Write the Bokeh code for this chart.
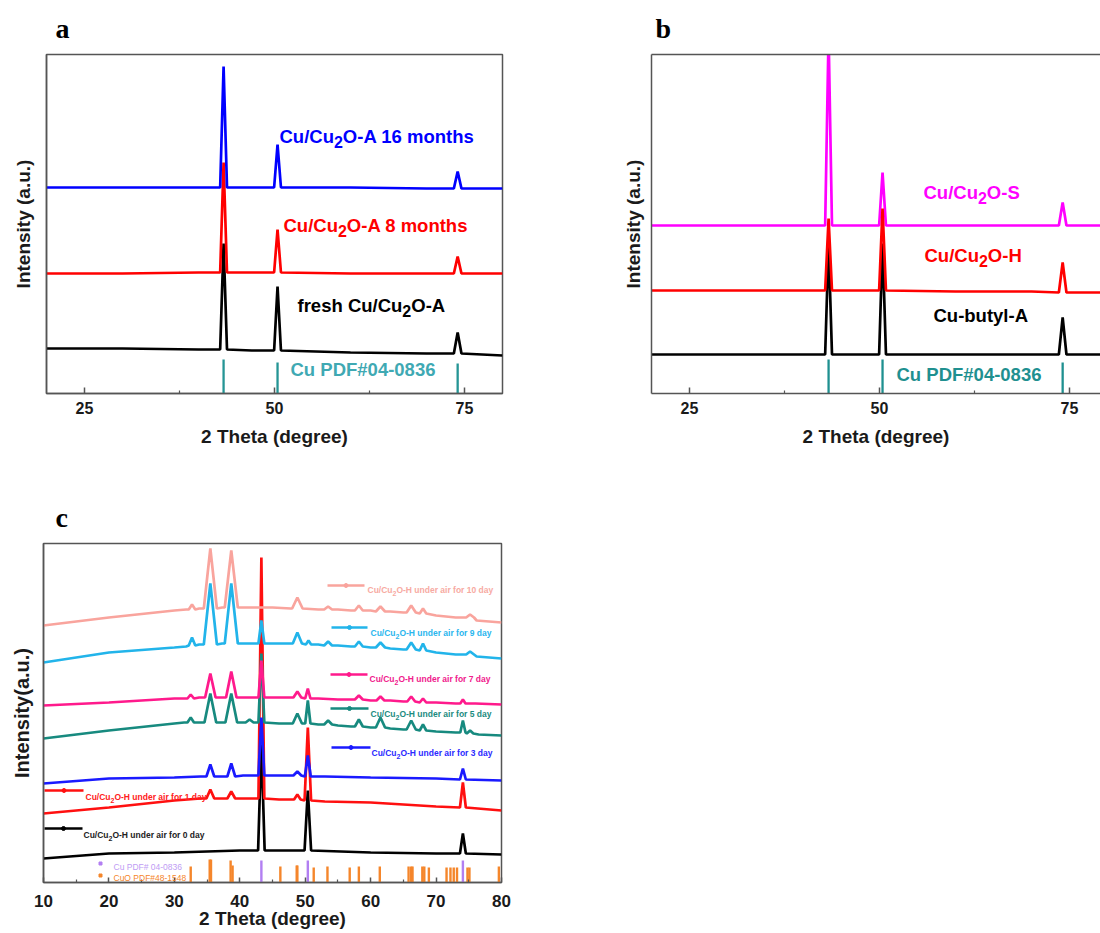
import numpy as np
from bokeh.plotting import figure
from bokeh.models import Range1d, LinearAxis, FixedTicker, Label
from bokeh.layouts import column, row
from bokeh.embed import file_html
from bokeh.resources import INLINE

FONT = "Liberation Sans"
SERIF = "Liberation Serif"

# ---------------- data (intensity in a.u.) ----------------
# Panel a
a_knot_x = [20, 30, 40, 47, 60, 70, 80]
a_black_knot_y = [45, 45, 44, 43, 41, 40, 38]
a_red_knot_y = [120, 120, 121, 121, 120, 120, 120]
a_blue_knot_y = [206, 206, 206, 206, 206, 205, 205]
a_peak_x = [43.3, 50.4, 74.1]
a_peak_hw = [0.45, 0.45, 0.5]
a_black_foot = [44, 43, 40]
a_black_top = [150, 107, 61]
a_red_foot = [121, 121, 120]
a_red_top = [231, 164, 137]
a_blue_foot = [206, 206, 205]
a_blue_top = [327, 249, 222]
cu_pdf_x = [43.3, 50.4, 74.1]
a_pdf_h = [34, 31, 30]

# Panel b
b_knot_x = [20, 30, 40, 47, 60, 70, 79.1]
b_black_knot_y = [39, 39, 39, 39, 39, 39, 39]
b_red_knot_y = [103, 103, 103, 103, 102, 102, 101]
b_mag_knot_y = [168, 168, 168, 168, 168, 168, 168]
b_peak_x = [43.3, 50.4, 74.1]
b_peak_hw = [0.45, 0.45, 0.5]
b_black_foot = [39, 39, 39]
b_black_top = [150, 150, 76]
b_red_foot = [103, 103, 101]
b_red_top = [175, 185, 131]
b_mag_foot = [168, 168, 168]
b_mag_top = [360, 221, 191]
b_pdf_h = [34, 34, 31]

# Panel c
c_days = [0, 1, 3, 5, 7, 9, 10]
c0_kx = [10, 20, 30, 40, 46, 60, 70, 80]
c0_ky = [24, 29, 30, 32, 32, 30, 29, 28]
c0_px = [43.3, 50.4, 74.1]
c0_pf = [32, 32, 29]
c0_pt = [140, 92, 49]
c0_hw = [0.5, 0.5, 0.45]

c1_kx = [10, 20, 30, 34, 37, 40.5, 46, 48, 53, 60, 70, 80]
c1_ky = [69, 75, 82, 84, 84, 84, 83, 83, 81, 80, 76, 72]
c1_px = [35.5, 38.7, 43.3, 48.8, 50.4, 74.1]
c1_pf = [84, 84, 84, 83, 82, 75]
c1_pt = [93, 91, 325, 88, 155, 100]
c1_hw = [0.6, 0.6, 0.45, 0.5, 0.5, 0.45]

c3_kx = [10, 20, 30, 34, 37, 40.5, 46, 47.5, 53, 60, 70, 80]
c3_ky = [99, 104, 105, 106, 106, 107, 107, 107, 106, 105, 104, 102]
c3_px = [35.5, 38.7, 43.3, 48.8, 50.4, 74.1]
c3_pf = [106, 106, 107, 107, 106, 103]
c3_pt = [118, 119, 165, 111, 127, 114]
c3_hw = [0.6, 0.6, 0.45, 0.6, 0.45, 0.45]

c5_kx = [10, 20, 30, 31.5, 33.8, 37.1, 40.5, 42.5, 46, 47.5, 52, 55, 57, 60, 63, 65, 70, 73, 76.5, 80]
c5_ky = [144, 152, 159, 160, 160, 160, 160, 160, 159, 159, 158, 157, 156, 155, 154, 153, 151, 150, 148, 147]
c5_px = [32.5, 35.5, 38.7, 41.5, 43.3, 48.8, 50.4, 53.5, 58.2, 61.5, 66.2, 68.0, 74.1, 75.2]
c5_pf = [160, 160, 160, 160, 160, 159, 159, 158, 156, 155, 153, 152, 150, 149]
c5_pt = [165, 189, 189, 163, 229, 169, 182, 162, 163, 165, 162, 158, 162, 152]
c5_hw = [0.5, 0.9, 0.9, 0.6, 0.45, 0.7, 0.4, 0.6, 0.6, 0.7, 0.7, 0.5, 0.4, 0.5]

c7_kx = [10, 20, 30, 31.8, 33.8, 37.1, 40.5, 42.5, 46, 47.8, 52, 55, 60, 63, 65, 70, 73, 76, 80]
c7_ky = [177, 180, 184, 184, 185, 185, 185, 185, 185, 185, 184, 183, 182, 182, 181, 180, 179, 179, 178]
c7_px = [32.5, 35.5, 38.7, 43.3, 48.8, 50.4, 58.2, 61.5, 66.2, 68.0, 74.1]
c7_pf = [184, 185, 185, 185, 185, 184, 183, 182, 181, 180, 179]
c7_pt = [188, 209, 211, 222, 191, 194, 187, 186, 186, 184, 183]
c7_hw = [0.5, 0.8, 0.8, 0.45, 0.6, 0.4, 0.6, 0.6, 0.6, 0.5, 0.4]

c9_kx = [10, 20, 30, 31.8, 33.8, 37.3, 40.3, 42.5, 46, 47.8, 52, 55, 57, 60, 63, 65, 70, 73, 76.2, 80]
c9_ky = [220, 230, 235, 236, 238, 239, 239, 239, 239, 239, 238, 237, 236, 235, 234, 233, 230, 228, 226, 224]
c9_px = [32.7, 35.5, 38.7, 43.3, 48.8, 50.5, 53.5, 58.2, 61.5, 66.2, 68.0, 75.2]
c9_pf = [237, 238, 239, 239, 239, 238, 237, 236, 235, 233, 232, 228]
c9_pt = [245, 299, 299, 262, 250, 242, 241, 241, 240, 240, 239, 231]
c9_hw = [0.5, 1.0, 1.0, 0.45, 0.7, 0.4, 0.6, 0.6, 0.7, 0.7, 0.5, 0.6]

c10_kx = [10, 20, 30, 31.8, 33.8, 37.3, 40.3, 45, 47.8, 52, 55, 57, 60, 63, 65, 70, 73, 76.2, 80]
c10_ky = [257, 265, 272, 273, 274, 275, 275, 275, 274, 273, 273, 272, 272, 271, 270, 267, 265, 262, 260]
c10_px = [32.7, 35.5, 38.7, 48.8, 53.5, 58.2, 61.5, 66.2, 68.0, 75.2]
c10_pf = [273, 274, 275, 274, 273, 272, 271, 270, 269, 265]
c10_pt = [278, 334, 332, 285, 276, 277, 276, 277, 274, 268]
c10_hw = [0.5, 1.0, 1.0, 0.8, 0.6, 0.6, 0.7, 0.7, 0.5, 0.6]

c_cu_h = [22, 22, 22]
cuo_pdf_x = [32.5, 35.4, 35.6, 38.6, 38.9, 46.2, 48.7, 48.8, 51.3, 53.4, 56.8, 58.2, 61.4,
             65.8, 66.2, 66.4, 67.9, 68.2, 68.9, 71.6, 72.2, 72.7, 73.2, 74.8, 75.1, 79.6]
cuo_pdf_h = [16, 23, 23, 22, 17, 16, 17, 17, 15, 16, 15, 16, 16,
             16, 16, 16, 16, 16, 15, 15, 15, 15, 15, 15, 15, 16]

# ---------------- helpers ----------------
AW = {' ': 278, '!': 333, '#': 556, '(': 333, ')': 333, '-': 333, '.': 278, '/': 278,
      'A': 722, 'B': 722, 'C': 722, 'D': 722, 'F': 611, 'H': 722, 'O': 778, 'P': 667,
      'S': 667, 'T': 611, 'a': 556, 'b': 611, 'd': 611, 'e': 556, 'f': 333, 'h': 611,
      'i': 278, 'l': 278, 'm': 889, 'n': 611, 'o': 611, 'r': 389, 's': 556, 't': 333,
      'u': 611, 'y': 556}


def text_w(s, size):
    return sum(AW.get(c, 556) for c in s) * size / 1000.0


def chem(p, x, y, parts, color, size, sub_size, sub_drop, weight="bold"):
    off = 0.0
    for txt, is_sub in parts:
        fs = sub_size if is_sub else size
        p.add_layout(Label(x=x, y=y, x_offset=off, y_offset=-sub_drop if is_sub else 0,
                           text=txt, text_font=FONT, text_font_style=weight,
                           text_font_size=f"{fs}px", text_color=color,
                           text_baseline="alphabetic", text_align="left"))
        off += text_w(txt, fs)


def trace(kx, ky, px, pf, pt, hw):
    pts = list(zip(kx, ky))
    for pos, foot, top, w in zip(px, pf, pt, hw):
        pts += [(pos - w, foot), (pos, top), (pos + w, foot)]
    pts.sort()
    return [q[0] for q in pts], [q[1] for q in pts]


FRAME = "#555555"
TXT = "#1a1a1a"
LW = 2.7


def style(p, majors, minors, tick_size, title_size, tick_stand, title_stand, ylab_stand,
          tick_len=6, ytitle_size=None):
    p.grid.visible = False
    p.background_fill_color = "white"
    p.border_fill_color = "white"
    xa = p.xaxis[0]
    xa.ticker = FixedTicker(ticks=majors, minor_ticks=minors)
    xa.major_tick_in = tick_len
    xa.major_tick_out = 0
    xa.minor_tick_in = 3
    xa.minor_tick_out = 0
    xa.major_tick_line_color = FRAME
    xa.minor_tick_line_color = FRAME
    xa.major_tick_line_width = 1.5
    xa.minor_tick_line_width = 1.2
    xa.axis_line_color = FRAME
    xa.axis_line_width = 1.5
    xa.major_label_text_font = FONT
    xa.major_label_text_font_style = "bold"
    xa.major_label_text_font_size = f"{tick_size}px"
    xa.major_label_text_color = TXT
    xa.major_label_standoff = tick_stand
    xa.axis_label_text_font = FONT
    xa.axis_label_text_font_style = "bold"
    xa.axis_label_text_font_size = f"{title_size}px"
    xa.axis_label_text_color = TXT
    xa.axis_label_standoff = title_stand
    ya = p.yaxis[0]
    ya.ticker = FixedTicker(ticks=[])
    ya.major_tick_in = 0
    ya.major_tick_out = 0
    ya.minor_tick_in = 0
    ya.minor_tick_out = 0
    ya.major_label_standoff = 0
    ya.axis_line_color = FRAME
    ya.axis_line_width = 1.5
    ya.axis_label_text_font = FONT
    ya.axis_label_text_font_style = "bold"
    ya.axis_label_text_font_size = f"{ytitle_size or title_size}px"
    ya.axis_label_text_color = TXT
    ya.axis_label_standoff = ylab_stand


def set_title(p, t, offset):
    p.title.text = t
    p.title.text_font = SERIF
    p.title.text_font_style = "bold"
    p.title.text_font_size = "28px"
    p.title.align = "left"
    p.title.offset = offset
    p.title.standoff = 21
    p.title.text_color = "black"


# ---------------- panel a ----------------
pa = figure(width=560, height=467, x_range=Range1d(20, 80), y_range=Range1d(0, 339),
            output_backend="svg", toolbar_location=None,
            min_border_left=46, min_border_right=58, min_border_top=54, min_border_bottom=74,
            x_axis_label="2 Theta (degree)", y_axis_label="Intensity (a.u.)")
style(pa, [25, 50, 75], [37.5, 62.5], 16, 19, 8, 9, 13)
pa.outline_line_color = FRAME
pa.outline_line_width = 1.5
set_title(pa, "a", 9)


def xa_(px):
    return 20 + (px - 46) / 7.6


def ya_(py):
    return 393 - py


for ky, ft, tp, col in [(a_black_knot_y, a_black_foot, a_black_top, "black"),
                        (a_red_knot_y, a_red_foot, a_red_top, "#ff0000"),
                        (a_blue_knot_y, a_blue_foot, a_blue_top, "#0000ff")]:
    xs, ys = trace(a_knot_x, ky, a_peak_x, ft, tp, a_peak_hw)
    pa.line(xs, ys, line_color=col, line_width=LW)
pa.segment(x0=cu_pdf_x, y0=[0] * 3, x1=cu_pdf_x, y1=a_pdf_h, line_color="#259595", line_width=2.3)

S, SS, SD = 18.5, 16, 5
chem(pa, xa_(279), ya_(136), [("Cu/Cu", False), ("2", True), ("O-A 16 months", False)], "#0000ff", S, SS, SD)
chem(pa, xa_(283), ya_(225), [("Cu/Cu", False), ("2", True), ("O-A 8 months", False)], "#ff0000", S, SS, SD)
chem(pa, xa_(297), ya_(305), [("fresh Cu/Cu", False), ("2", True), ("O-A", False)], "black", S, SS, SD)
chem(pa, xa_(290), ya_(369), [("Cu PDF#04-0836", False)], "#3fa9b3", S, SS, SD)

# ---------------- panel b ----------------
pb = figure(width=540, height=467, x_range=Range1d(20, 20 + 449 / 7.6), y_range=Range1d(0, 339),
            output_backend="svg", toolbar_location=None,
            min_border_left=91, min_border_right=0, min_border_top=54, min_border_bottom=74,
            x_axis_label="2 Theta (degree)", y_axis_label="Intensity (a.u.)")
style(pb, [25, 50, 75], [37.5, 62.5], 16, 19, 8, 9, 8)
pb.outline_line_color = None
top_axis = LinearAxis(ticker=FixedTicker(ticks=[]), axis_line_color=FRAME, axis_line_width=1.5,
                      major_tick_in=0, major_tick_out=0, minor_tick_in=0, minor_tick_out=0,
                      major_label_standoff=0)
pb.add_layout(top_axis, "above")
set_title(pb, "b", 4)


def xb_(px):
    return 20 + (px - 651) / 7.6


for ky, ft, tp, col in [(b_black_knot_y, b_black_foot, b_black_top, "black"),
                        (b_mag_knot_y, b_mag_foot, b_mag_top, "#ff00ff"),
                        (b_red_knot_y, b_red_foot, b_red_top, "#ff0000")]:
    xs, ys = trace(b_knot_x, ky, b_peak_x, ft, tp, b_peak_hw)
    pb.line(xs, ys, line_color=col, line_width=LW)
pb.segment(x0=cu_pdf_x, y0=[0] * 3, x1=cu_pdf_x, y1=b_pdf_h, line_color="#1f9090", line_width=2.3)

chem(pb, xb_(923), ya_(192), [("Cu/Cu", False), ("2", True), ("O-S", False)], "#ff00ff", S, SS, SD)
chem(pb, xb_(924), ya_(255), [("Cu/Cu", False), ("2", True), ("O-H", False)], "#ff0000", S, SS, SD)
chem(pb, xb_(933), ya_(315), [("Cu-butyl-A", False)], "black", S, SS, SD)
chem(pb, xb_(896), ya_(374), [("Cu PDF#04-0836", False)], "#1f9090", S, SS, SD)

# ---------------- panel c ----------------
pc = figure(width=520, height=466, x_range=Range1d(10, 80), y_range=Range1d(0, 339),
            output_backend="svg", toolbar_location=None,
            min_border_left=43, min_border_right=19, min_border_top=76, min_border_bottom=51,
            x_axis_label="2 Theta (degree)", y_axis_label="Intensity(a.u.)")
style(pc, list(range(10, 81, 10)), list(range(15, 80, 10)), 17, 19, 12, -2, 11,
      tick_len=5, ytitle_size=20)
pc.outline_line_color = FRAME
pc.outline_line_width = 1.5
set_title(pc, "c", 12)


def xc_(px):
    return 10 + (px - 43) / (458 / 70)


def yc_(py):
    return 882 - py


c_colors = ["#000000", "#ff1010", "#1a1aff", "#178a7f", "#ff1a8c", "#22b4ea", "#f9a49d"]
c_text_colors = ["#222222", "#ff2020", "#2a2aff", "#1b8b80", "#f0208c", "#2ab6ee", "#f7aaa2"]
c_series = [(c0_kx, c0_ky, c0_px, c0_pf, c0_pt, c0_hw),
            (c1_kx, c1_ky, c1_px, c1_pf, c1_pt, c1_hw),
            (c3_kx, c3_ky, c3_px, c3_pf, c3_pt, c3_hw),
            (c5_kx, c5_ky, c5_px, c5_pf, c5_pt, c5_hw),
            (c7_kx, c7_ky, c7_px, c7_pf, c7_pt, c7_hw),
            (c9_kx, c9_ky, c9_px, c9_pf, c9_pt, c9_hw),
            (c10_kx, c10_ky, c10_px, c10_pf, c10_pt, c10_hw)]
for ser, col in zip(c_series, c_colors):
    xs, ys = trace(*ser)
    pc.line(xs, ys, line_color=col, line_width=LW)

pc.segment(x0=cuo_pdf_x, y0=[0] * len(cuo_pdf_x), x1=cuo_pdf_x, y1=cuo_pdf_h,
           line_color="#f5862b", line_width=2.4)
pc.segment(x0=cu_pdf_x, y0=[0] * 3, x1=cu_pdf_x, y1=c_cu_h, line_color="#b27ff2", line_width=2.4)

# legend (screen layout positions in px: line start, line end, line y, text x, text baseline)
leg_layout = [(44, 82, 828, 83, 834), (44, 83, 790, 85, 796), (331, 370, 747, 371, 752),
              (330, 368, 708, 370, 713), (330, 367, 674, 369, 678), (331, 367, 627, 370, 632),
              (327, 364, 585, 367, 589)]
LS, LSS, LSD = 8.5, 7, 4
for (l0, l1, ly, tx, tb), d, col, tcol in zip(leg_layout, c_days, c_colors, c_text_colors):
    pc.line([xc_(l0), xc_(l1)], [yc_(ly), yc_(ly)], line_color=col, line_width=2.5)
    pc.scatter([xc_((l0 + l1) / 2)], [yc_(ly)], size=4, color=col)
    chem(pc, xc_(tx), yc_(tb), [("Cu/Cu", False), ("2", True), (f"O-H under air for {d} day", False)],
         tcol, LS, LSS, LSD)

pc.scatter([xc_(100)], [yc_(863)], size=3, marker="square", color="#b27ff2")
pc.scatter([xc_(100)], [yc_(875)], size=3, marker="square", color="#f5862b")
chem(pc, xc_(113), yc_(866), [("Cu PDF# 04-0836", False)], "#c09cf4", LS, LSS, LSD, weight="normal")
chem(pc, xc_(113), yc_(877), [("CuO PDF#48-1548", False)], "#f5862b", LS, LSS, LSD, weight="normal")

layout = column(row(pa, pb), pc)
open("out.html", "w").write(file_html(layout, INLINE))
